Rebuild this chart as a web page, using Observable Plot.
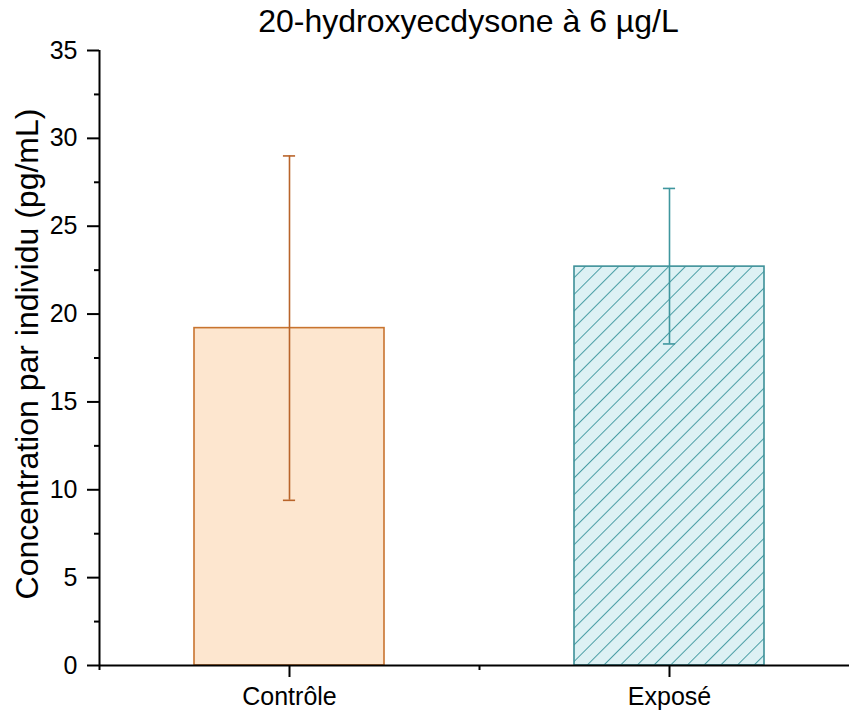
<!DOCTYPE html>
<html>
<head>
<meta charset="utf-8">
<script src="https://cdn.jsdelivr.net/npm/d3@7"></script>
<script src="https://cdn.jsdelivr.net/npm/@observablehq/plot@0.6"></script>
<style>
  html, body { margin: 0; padding: 0; background: white; }
  #wrap { position: relative; width: 849px; height: 712px; font-family: "Liberation Sans", Arial, sans-serif; }
  #title { position: absolute; left: 0; top: 5px; width: 937px; text-align: center; font-size: 32px; line-height: 32px; color: black; }
</style>
</head>
<body>
<div id="wrap">
  <div id="title">20-hydroxyecdysone à 6 µg/L</div>
</div>
<script>
const categories = ["Contrôle", "Exposé"];
const means = [19.2, 22.7];
const errLow = [9.4, 18.3];
const errHigh = [29.0, 27.15];
const yTicks = [0, 5, 10, 15, 20, 25, 30, 35];
const yMinorTicks = [2.5, 7.5, 12.5, 17.5, 22.5, 27.5, 32.5];
const xMinorTicks = [0.5, 1.5, 2.5];
const yLabel = "Concentration par individu (pg/mL)";

const fills = ["#FDE6CF", "url(#hatch)"];
const strokes = ["#C8742F", "#3D9098"];
const errColors = ["#B9642A", "#3F969E"];

const data = categories.map((c, i) => ({
  cat: c, x: i + 1, mean: means[i], lo: errLow[i], hi: errHigh[i],
  fill: fills[i], stroke: strokes[i], err: errColors[i]
}));

const halfBar = 0.25;
const cap = 0.016;

const chart = Plot.plot({
  width: 849,
  height: 712,
  marginTop: 50,
  marginBottom: 47,
  marginLeft: 99,
  marginRight: 0,
  style: { fontFamily: "Liberation Sans, Arial, sans-serif", fontSize: "24px", color: "black", background: "white" },
  x: { type: "linear", domain: [0.5, 2.5], range: [99, 859], axis: null },
  y: { domain: [0, 35], axis: null },
  marks: [
    Plot.rectY(data, { x1: d => d.x - halfBar, x2: d => d.x + halfBar, y1: 0, y2: "mean", fill: d => d.fill, stroke: d => d.stroke, strokeWidth: 1.6 }),
    Plot.ruleX(data, { x: "x", y1: "lo", y2: "hi", stroke: d => d.err, strokeWidth: 1.6 }),
    Plot.ruleY(data, { y: "hi", x1: d => d.x - cap, x2: d => d.x + cap, stroke: d => d.err, strokeWidth: 1.6 }),
    Plot.ruleY(data, { y: "lo", x1: d => d.x - cap, x2: d => d.x + cap, stroke: d => d.err, strokeWidth: 1.6 }),
    Plot.axisY({ ticks: yTicks, tickSize: 12, tickPadding: 10, fontSize: 25, label: null, strokeWidth: 2 }),
    Plot.axisY({ ticks: yMinorTicks, tickSize: 5, tickFormat: () => "", label: null, strokeWidth: 2 }),
    Plot.axisX({ ticks: [1, 2], tickFormat: d => categories[d - 1], tickSize: 12, tickPadding: 10, fontSize: 25, label: null, strokeWidth: 2 }),
    Plot.axisX({ ticks: xMinorTicks, tickSize: 5, tickFormat: () => "", label: null, strokeWidth: 2 }),
    Plot.ruleX([0.5], { y1: 0, y2: 35, stroke: "black", strokeWidth: 2 }),
    Plot.ruleY([0], { stroke: "black", strokeWidth: 2 }),
    Plot.text([yLabel], { frameAnchor: "left", dx: -72, dy: -4, rotate: -90, fontSize: 32, fill: "black", textAnchor: "middle" })
  ]
});

const svg = d3.select(chart);
svg.selectAll("g").filter(function () {
  const a = this.getAttribute("aria-label") || "";
  return a.startsWith("y-axis tick label");
}).style("font-size", "25px").selectAll("text").style("font-size", "25px");

const defs = svg.insert("defs", ":first-child");
const pat = defs.append("pattern")
  .attr("id", "hatch")
  .attr("patternUnits", "userSpaceOnUse")
  .attr("width", 11.8)
  .attr("height", 11.8)
  .attr("patternTransform", "rotate(45)");
pat.append("rect").attr("width", 11.8).attr("height", 11.8).attr("fill", "#DDF1F4");
pat.append("line").attr("x1", 0).attr("y1", 0).attr("x2", 0).attr("y2", 11.8)
  .attr("stroke", "#4A9EA5").attr("stroke-width", 2);

document.getElementById("wrap").prepend(chart);
</script>
</body>
</html>
